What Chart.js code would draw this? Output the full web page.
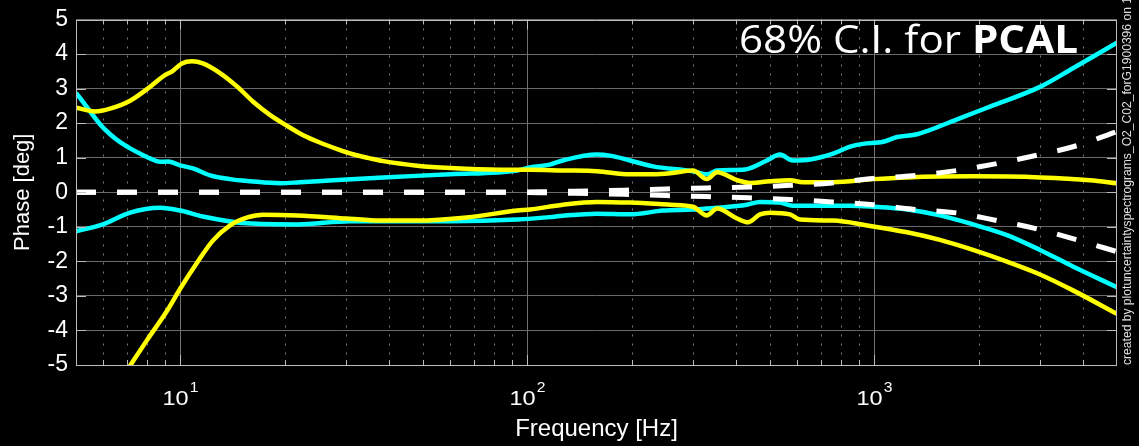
<!DOCTYPE html>
<html>
<head>
<meta charset="utf-8">
<script src="https://cdn.jsdelivr.net/npm/chart.js@4.4.1/dist/chart.umd.min.js"></script>
<style>
html,body{margin:0;padding:0;background:#000;overflow:hidden}
canvas{display:block}
</style>
</head>
<body>
<canvas id="c" width="1139" height="446"></canvas>
<script>
// ---------------- data ----------------
const cyanUpperF = [5.0, 5.49, 5.86, 6.27, 6.70, 7.16, 7.64, 8.17, 8.73, 9.21, 9.97, 10.87, 12.17, 13.9, 15.9, 19.4, 22.1, 27.6, 38.4, 59.9, 93.4, 101.7, 116, 126.5, 158.5, 172.9, 197.6, 230, 300, 329, 352, 424, 490, 534, 582, 652, 760, 851, 927, 1059, 1162, 1327, 1730, 2153, 3000, 3733, 5000];
const cyanUpperV = [2.88, 2.34, 1.97, 1.68, 1.45, 1.27, 1.12, 0.98, 0.88, 0.89, 0.78, 0.69, 0.49, 0.38, 0.32, 0.26, 0.29, 0.35, 0.43, 0.52, 0.63, 0.72, 0.80, 0.92, 1.09, 1.06, 0.92, 0.75, 0.61, 0.52, 0.63, 0.66, 0.92, 1.09, 0.92, 0.95, 1.12, 1.32, 1.40, 1.46, 1.60, 1.68, 2.11, 2.48, 3.05, 3.59, 4.33];

const cyanLowerF = [5.0, 5.98, 7.16, 8.73, 10.0, 11.6, 15.6, 21.7, 30.8, 59.9, 93.4, 116, 126.5, 158.5, 197.6, 246, 300, 329, 352, 429, 468, 534, 582, 851, 991, 1242, 1544, 1924, 2410, 3000, 3733, 5000];
const cyanLowerV = [-1.13, -0.93, -0.59, -0.45, -0.53, -0.70, -0.90, -0.93, -0.84, -0.84, -0.79, -0.72, -0.68, -0.62, -0.64, -0.53, -0.50, -0.47, -0.45, -0.36, -0.28, -0.30, -0.39, -0.39, -0.42, -0.50, -0.67, -0.93, -1.24, -1.67, -2.15, -2.75];

const yellowUpperF = [5.0, 5.68, 6.27, 7.16, 8.17, 9.02, 9.47, 10.1, 10.8, 11.6, 13.0, 14.6, 16.2, 18.1, 20.3, 22.5, 25.2, 28.3, 31.4, 35.2, 38.4, 48.1, 59.9, 83.4, 101.7, 126.5, 158.5, 197.6, 230, 258, 300, 329, 352, 402, 438, 500, 571, 622, 760, 991, 1242, 1924, 3000, 4180, 5000];
const yellowUpperV = [2.45, 2.34, 2.42, 2.65, 3.05, 3.39, 3.50, 3.73, 3.79, 3.73, 3.45, 3.05, 2.62, 2.24, 1.92, 1.66, 1.44, 1.25, 1.10, 0.98, 0.90, 0.77, 0.70, 0.65, 0.65, 0.63, 0.61, 0.52, 0.52, 0.55, 0.63, 0.38, 0.58, 0.35, 0.27, 0.32, 0.35, 0.29, 0.29, 0.38, 0.43, 0.46, 0.43, 0.35, 0.26];

const yellowLowerF = [7.0, 8.01, 9.15, 10.0, 11.2, 12.4, 13.9, 15.6, 17.3, 21.7, 30.2, 37.6, 48.1, 66.9, 93.4, 101.7, 126.5, 158.5, 197.6, 258, 300, 329, 352, 402, 432, 468, 500, 571, 610, 760, 953, 1242, 1544, 1924, 2410, 3000, 3733, 5000];
const yellowLowerV = [-5.17, -4.28, -3.43, -2.78, -2.02, -1.40, -0.96, -0.73, -0.65, -0.67, -0.76, -0.82, -0.82, -0.73, -0.53, -0.50, -0.36, -0.28, -0.30, -0.36, -0.42, -0.67, -0.47, -0.76, -0.87, -0.64, -0.59, -0.64, -0.79, -0.82, -0.96, -1.16, -1.38, -1.67, -2.01, -2.38, -2.84, -3.52];

const dashF = [5, 80, 109, 136, 190, 251, 329, 435, 571, 755, 991, 1290, 1730, 2255, 2937, 3836, 5000];
const dashUpperV = [0, 0, 0.015, 0.03, 0.06, 0.095, 0.125, 0.15, 0.20, 0.27, 0.40, 0.48, 0.63, 0.83, 1.07, 1.35, 1.76];
const dashLowerV = [0, 0, -0.015, -0.03, -0.06, -0.095, -0.125, -0.16, -0.21, -0.28, -0.36, -0.49, -0.60, -0.82, -1.06, -1.38, -1.72];

const xRange = [5, 5000];
const yRange = [-5, 5];
const yTickValues = [-5, -4, -3, -2, -1, 0, 1, 2, 3, 4, 5];
const xDecadeValues = [10, 100, 1000];
const xDecadeBase = '10';
const xDecadeExponents = ['1', '2', '3'];
const xAxisTitle = 'Frequency [Hz]';
const yAxisTitle = 'Phase [deg]';
const annotationRegular = '68% C.I. for ';
const annotationBold = 'PCAL';
const creditText = 'created by plotuncertaintyspectrograms_O2_C02_forG1900396 on 1';

// ---------------- helpers ----------------
function zip(f, v) { return f.map((x, i) => ({ x: x, y: v[i] })); }
const FAMILY = '"Liberation Sans", Arial, Helvetica, sans-serif';
Chart.defaults.font.family = FAMILY;

function stretchText(ctx, text, x, y, sx) {
  ctx.save();
  ctx.translate(x, y);
  ctx.scale(sx, 1);
  ctx.fillText(text, 0, 0);
  ctx.restore();
}

const decor = {
  id: 'decor',
  beforeDraw(chart) {
    const ctx = chart.ctx;
    ctx.save();
    ctx.fillStyle = '#000';
    ctx.fillRect(0, 0, chart.width, chart.height);
    ctx.restore();
  },
  beforeDatasetsDraw(chart) {
    const ctx = chart.ctx, a = chart.chartArea, xs = chart.scales.x;
    ctx.save();
    ctx.lineWidth = 1;
    for (let e = 0; e <= 3; e++) {
      for (let m = 1; m <= 9; m++) {
        const v = m * Math.pow(10, e);
        if (v <= xRange[0] || v >= xRange[1]) continue;
        const px = Math.round(xs.getPixelForValue(v)) + 0.5;
        ctx.beginPath();
        if (m === 1) { ctx.setLineDash([]); ctx.strokeStyle = '#707070'; }
        else { ctx.setLineDash([2, 7]); ctx.strokeStyle = '#7a7a7a'; }
        ctx.moveTo(px, a.top);
        ctx.lineTo(px, a.bottom);
        ctx.stroke();
      }
    }
    ctx.restore();
  },
  afterDatasetsDraw(chart) {
    const ctx = chart.ctx, a = chart.chartArea, xs = chart.scales.x, ys = chart.scales.y;
    ctx.save();
    ctx.strokeStyle = '#bdbdbd';
    ctx.lineWidth = 1;
    ctx.setLineDash([]);
    ctx.strokeRect(Math.round(a.left) + 0.5, Math.round(a.top) + 0.5, Math.round(a.right - a.left) - 1, Math.round(a.bottom - a.top) - 1);
    ctx.beginPath();
    yTickValues.forEach(v => {
      const py = Math.round(ys.getPixelForValue(v)) + 0.5;
      ctx.moveTo(a.left, py); ctx.lineTo(a.left + 10, py);
      ctx.moveTo(a.right, py); ctx.lineTo(a.right - 10, py);
    });
    for (let e = 0; e <= 3; e++) {
      for (let m = 1; m <= 9; m++) {
        const v = m * Math.pow(10, e);
        if (v <= xRange[0] || v >= xRange[1]) continue;
        const px = Math.round(xs.getPixelForValue(v)) + 0.5;
        const len = m === 1 ? 10 : 5;
        ctx.moveTo(px, a.bottom); ctx.lineTo(px, a.bottom - len);
        ctx.moveTo(px, a.top); ctx.lineTo(px, a.top + len);
      }
    }
    ctx.stroke();
    ctx.restore();
  },
  afterDraw(chart) {
    const ctx = chart.ctx, a = chart.chartArea, xs = chart.scales.x;
    ctx.save();
    ctx.fillStyle = '#fff';
    ctx.textAlign = 'left';
    ctx.textBaseline = 'alphabetic';
    const sx = 1.12;
    const mainFont = '21px ' + FAMILY, supFont = '14px ' + FAMILY;
    xDecadeValues.forEach((v, i) => {
      const px = xs.getPixelForValue(v);
      ctx.font = mainFont;
      const w1 = ctx.measureText(xDecadeBase).width * sx;
      ctx.font = supFont;
      const w2 = ctx.measureText(xDecadeExponents[i]).width * sx;
      const x0 = px - (w1 + 1 + w2) / 2;
      ctx.font = mainFont;
      stretchText(ctx, xDecadeBase, x0, 405, sx);
      ctx.font = supFont;
      stretchText(ctx, xDecadeExponents[i], x0 + w1 + 1, 392, sx);
    });
    const regF = '39px "Open Sans", "Noto Sans", sans-serif';
    const boldF = 'bold 39px "Open Sans", "Noto Sans", sans-serif';
    ctx.font = regF;
    const wr = ctx.measureText(annotationRegular).width;
    ctx.font = boldF;
    const wb = ctx.measureText(annotationBold).width;
    const asx = 339 / (wr + wb);
    ctx.save();
    ctx.translate(739, 53);
    ctx.scale(asx, 1);
    ctx.font = regF;
    ctx.fillText(annotationRegular, 0, 0);
    ctx.font = boldF;
    ctx.fillText(annotationBold, wr, 0);
    ctx.restore();
    ctx.save();
    ctx.fillStyle = '#e0e0e0';
    ctx.font = '12px ' + FAMILY;
    const wc = ctx.measureText(creditText).width;
    ctx.translate(1130.5, a.bottom);
    ctx.rotate(-Math.PI / 2);
    ctx.scale(368 / wc, 1);
    ctx.fillText(creditText, 0, 0);
    ctx.restore();
    ctx.restore();
  }
};

const lineBase = { pointRadius: 0, fill: false, borderCapStyle: 'butt', borderJoinStyle: 'round', cubicInterpolationMode: 'monotone', clip: 0 };

new Chart(document.getElementById('c'), {
  type: 'line',
  data: {
    datasets: [
      Object.assign({}, lineBase, { label: 'nominal +', data: zip(dashF, dashUpperV), borderColor: '#ffffff', borderWidth: 5, borderDash: [20, 21], order: 0 }),
      Object.assign({}, lineBase, { label: 'nominal -', data: zip(dashF, dashLowerV), borderColor: '#ffffff', borderWidth: 5, borderDash: [20, 21], order: 0 }),
      Object.assign({}, lineBase, { label: 'PCAL upper', data: zip(yellowUpperF, yellowUpperV), borderColor: '#ffff00', borderWidth: 4.5, order: 1 }),
      Object.assign({}, lineBase, { label: 'PCAL lower', data: zip(yellowLowerF, yellowLowerV), borderColor: '#ffff00', borderWidth: 4.5, order: 1 }),
      Object.assign({}, lineBase, { label: 'model upper', data: zip(cyanUpperF, cyanUpperV), borderColor: '#00ffff', borderWidth: 4.5, order: 2 }),
      Object.assign({}, lineBase, { label: 'model lower', data: zip(cyanLowerF, cyanLowerV), borderColor: '#00ffff', borderWidth: 4.5, order: 2 })
    ]
  },
  options: {
    responsive: false,
    animation: false,
    devicePixelRatio: 1,
    layout: { padding: { left: 0, right: 22, top: 13, bottom: 0 } },
    plugins: { legend: { display: false }, tooltip: { enabled: false } },
    scales: {
      x: {
        type: 'logarithmic',
        min: xRange[0], max: xRange[1],
        grid: { display: false },
        border: { display: false },
        ticks: { display: false },
        title: { display: true, text: xAxisTitle, color: '#ffffff', font: { size: 24, lineHeight: 1.2 }, padding: { top: 0, bottom: 2 } },
        afterFit(s) { s.height = 81; }
      },
      y: {
        type: 'linear',
        min: yRange[0], max: yRange[1],
        afterBuildTicks(s) { s.ticks = yTickValues.map(v => ({ value: v })); },
        ticks: { color: '#ffffff', font: { size: 23, lineHeight: 1 }, padding: 8 },
        grid: { color: '#6a6a6a', lineWidth: 1, drawTicks: false },
        border: { display: false },
        title: { display: true, text: yAxisTitle, color: '#ffffff', font: { size: 22, lineHeight: 1.2 }, padding: { top: 10, bottom: 0 } },
        afterFit(s) { s.width = 76; }
      }
    }
  },
  plugins: [decor]
});
</script>
</body>
</html>
